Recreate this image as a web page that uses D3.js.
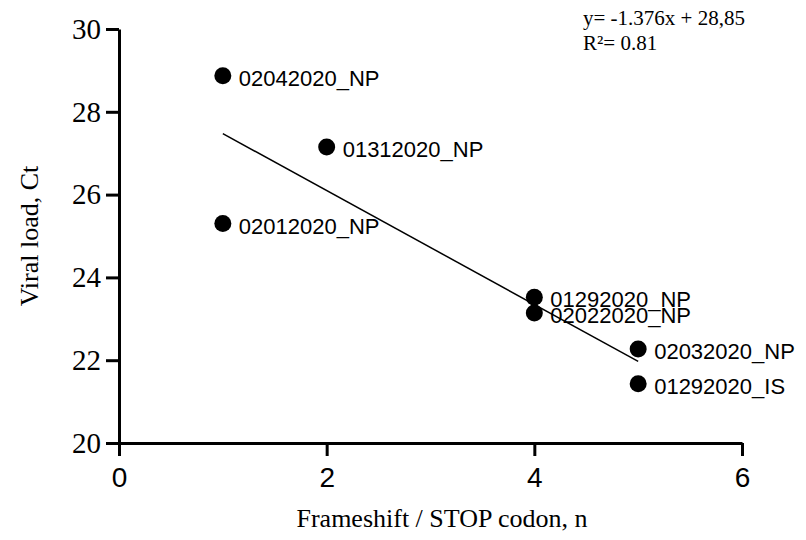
<!DOCTYPE html>
<html lang="en">
<head>
  <meta charset="UTF-8" />
  <title>Viral load vs Frameshift / STOP codon</title>
  <script src="https://d3js.org/d3.v7.min.js"></script>
  <style>
    body { margin: 0; background: #fff; }
    .serif { font-family: "Liberation Serif", "Times New Roman", serif; }
    .sans { font-family: "Liberation Sans", Arial, sans-serif; }
  </style>
</head>
<body>
  <div id="chart"></div>
  <script>
    // samples
    const sampleNames = ["02042020_NP", "01312020_NP", "02012020_NP", "01292020_NP",
                         "02022020_NP", "02032020_NP", "01292020_IS"];
    const frameshifts = [1, 2, 1, 4, 4, 5, 5];
    const ctValues = [28.87, 27.15, 25.3, 23.52, 23.14, 22.27, 21.43];

    // fit shown in the figure
    const slope = -1.376;
    const intercept = 28.85;
    const fitRange = [1, 5];
    const eqLabels = ["y= -1.376x + 28,85", "R²= 0.81"];

    const xTicks = [0, 2, 4, 6];
    const yTicks = [20, 22, 24, 26, 28, 30];

    const width = 806, height = 540;
    const svg = d3.select("#chart").append("svg")
      .attr("width", width).attr("height", height);

    const x = d3.scaleLinear().domain([0, 6]).range([119, 742]);
    const y = d3.scaleLinear().domain([20, 30]).range([443, 29]);

    // y axis
    const yAxis = svg.append("g")
      .attr("transform", `translate(${x(0)},0)`)
      .call(d3.axisLeft(y).tickValues(yTicks).tickFormat(d3.format("d"))
        .tickSize(13).tickPadding(5).tickSizeOuter(0));
    yAxis.select(".domain").attr("stroke-width", 3);
    yAxis.selectAll(".tick line").attr("stroke-width", 3);
    yAxis.selectAll(".tick text")
      .attr("class", "serif")
      .attr("font-size", 29)
      .attr("fill", "#000");

    // x axis
    const xAxis = svg.append("g")
      .attr("transform", `translate(0,${y(20)})`)
      .call(d3.axisBottom(x).tickValues(xTicks).tickFormat(d3.format("d"))
        .tickSize(13).tickPadding(11).tickSizeOuter(0));
    xAxis.select(".domain").attr("stroke-width", 3);
    xAxis.selectAll(".tick line").attr("stroke-width", 3);
    xAxis.selectAll(".tick text")
      .attr("class", "sans")
      .attr("font-size", 28)
      .attr("fill", "#000");

    // regression line
    svg.append("line")
      .attr("x1", x(fitRange[0])).attr("y1", y(slope * fitRange[0] + intercept))
      .attr("x2", x(fitRange[1])).attr("y2", y(slope * fitRange[1] + intercept))
      .attr("stroke", "#000").attr("stroke-width", 1.5);

    // points
    const pts = sampleNames.map((n, i) => ({ name: n, fx: frameshifts[i], ct: ctValues[i] }));
    svg.append("g").selectAll("circle")
      .data(pts).enter().append("circle")
      .attr("cx", d => x(d.fx))
      .attr("cy", d => y(d.ct))
      .attr("r", 8.5)
      .attr("fill", "#000");

    svg.append("g").selectAll("text")
      .data(pts).enter().append("text")
      .attr("class", "sans")
      .attr("x", d => x(d.fx) + 16)
      .attr("y", d => y(d.ct) + 10)
      .attr("font-size", 22)
      .attr("fill", "#000")
      .text(d => d.name);

    // equation
    svg.append("g").selectAll("text")
      .data(eqLabels).enter().append("text")
      .attr("class", "serif")
      .attr("x", 583)
      .attr("y", (d, i) => 25 + i * 25)
      .attr("font-size", 21)
      .text(d => d);

    // axis titles
    svg.append("text")
      .attr("class", "serif")
      .attr("transform", "translate(38,236) rotate(-90)")
      .attr("text-anchor", "middle")
      .attr("font-size", 26)
      .text("Viral load, Ct");

    svg.append("text")
      .attr("class", "serif")
      .attr("x", 442).attr("y", 527)
      .attr("text-anchor", "middle")
      .attr("font-size", 26)
      .text("Frameshift / STOP codon, n");
  </script>
</body>
</html>
